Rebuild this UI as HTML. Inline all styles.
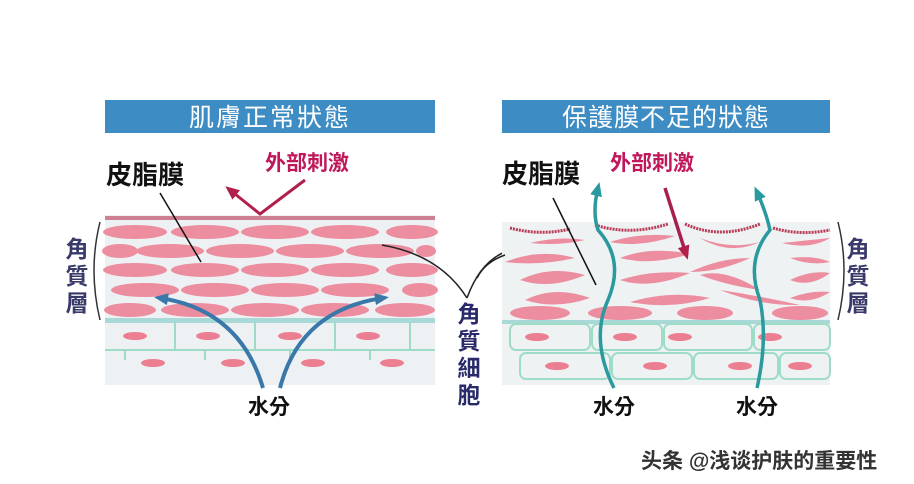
<!DOCTYPE html>
<html><head><meta charset="utf-8"><style>
html,body{margin:0;padding:0;background:#fff;}
svg{display:block;font-family:"Liberation Sans","Noto Sans CJK TC","Noto Sans CJK SC",sans-serif;}
</style></head><body>
<svg width="914" height="484" viewBox="0 0 914 484" xmlns="http://www.w3.org/2000/svg">
<defs>
<marker id="ab" markerUnits="userSpaceOnUse" markerWidth="14" markerHeight="12" refX="8" refY="6" orient="auto"><path d="M0,0 L14,6 L0,12 Z" fill="#3a78aa"/></marker>
<marker id="at" markerUnits="userSpaceOnUse" markerWidth="14" markerHeight="12" refX="8" refY="6" orient="auto"><path d="M0,0 L14,6 L0,12 Z" fill="#2a9a9e"/></marker>
<marker id="ar" markerUnits="userSpaceOnUse" markerWidth="14" markerHeight="12" refX="8" refY="6" orient="auto"><path d="M0,0 L14,6 L0,12 Z" fill="#b0204a"/></marker>
</defs>
<rect width="914" height="484" fill="#fff"/>
<rect x="105" y="100" width="330" height="33" fill="#3e8cc4"/>
<text x="270" y="126" font-size="25" fill="#fff" text-anchor="middle" letter-spacing="2">肌膚正常狀態</text>
<rect x="502" y="100" width="328" height="33" fill="#3e8cc4"/>
<text x="666" y="126" font-size="25" fill="#fff" text-anchor="middle" letter-spacing="1">保護膜不足的狀態</text>

<rect x="105" y="215" width="330" height="170" fill="#eef1f3"/>
<rect x="105" y="216" width="330" height="4" fill="#c0506a" opacity="0.7"/>
<g fill="#ec8da0">
<ellipse cx="135" cy="232" rx="32" ry="7"/><ellipse cx="205" cy="232" rx="34" ry="7"/><ellipse cx="275" cy="232" rx="34" ry="7"/><ellipse cx="345" cy="232" rx="34" ry="7"/><ellipse cx="412" cy="232" rx="26" ry="7"/>
<ellipse cx="120" cy="251" rx="18" ry="7"/><ellipse cx="170" cy="251" rx="34" ry="7"/><ellipse cx="240" cy="251" rx="34" ry="7"/><ellipse cx="310" cy="251" rx="34" ry="7"/><ellipse cx="380" cy="251" rx="34" ry="7"/><ellipse cx="426" cy="251" rx="10" ry="6"/>
<ellipse cx="135" cy="270" rx="32" ry="7"/><ellipse cx="205" cy="270" rx="34" ry="7"/><ellipse cx="275" cy="270" rx="34" ry="7"/><ellipse cx="345" cy="270" rx="34" ry="7"/><ellipse cx="412" cy="270" rx="26" ry="7"/>
<ellipse cx="145" cy="290" rx="34" ry="7"/><ellipse cx="215" cy="290" rx="34" ry="7"/><ellipse cx="285" cy="290" rx="34" ry="7"/><ellipse cx="355" cy="290" rx="34" ry="7"/><ellipse cx="420" cy="290" rx="18" ry="7"/>
<ellipse cx="130" cy="310" rx="26" ry="7"/><ellipse cx="195" cy="310" rx="34" ry="7"/><ellipse cx="265" cy="310" rx="34" ry="7"/><ellipse cx="335" cy="310" rx="34" ry="7"/><ellipse cx="405" cy="310" rx="30" ry="7"/>
</g>
<rect x="105" y="318" width="330" height="5" fill="#a8d9d6"/>
<g stroke="#9fdcc8" stroke-width="2" fill="none">
<line x1="105" y1="350" x2="435" y2="350"/>
<line x1="175" y1="322" x2="175" y2="350"/><line x1="255" y1="322" x2="255" y2="350"/><line x1="335" y1="322" x2="335" y2="350"/><line x1="410" y1="322" x2="410" y2="350"/>
<line x1="125" y1="350" x2="125" y2="360"/><line x1="205" y1="350" x2="205" y2="360"/><line x1="290" y1="350" x2="290" y2="360"/><line x1="370" y1="350" x2="370" y2="360"/>
</g>
<g fill="#ec7e92">
<ellipse cx="135" cy="336" rx="12" ry="4"/><ellipse cx="208" cy="336" rx="12" ry="4"/><ellipse cx="290" cy="336" rx="12" ry="4"/><ellipse cx="368" cy="336" rx="12" ry="4"/>
<ellipse cx="153" cy="363" rx="12" ry="4"/><ellipse cx="233" cy="363" rx="12" ry="4"/><ellipse cx="313" cy="363" rx="12" ry="4"/><ellipse cx="392" cy="363" rx="12" ry="4"/>
</g>
<path d="M263,388 Q240,310 160,298" stroke="#3a78aa" stroke-width="4" fill="none" marker-end="url(#ab)"/>
<path d="M280,388 Q300,310 383,298" stroke="#3a78aa" stroke-width="4" fill="none" marker-end="url(#ab)"/>
<path d="M305,180 L260,214 L230,190" stroke="#b0204a" stroke-width="3" fill="none" marker-end="url(#ar)"/>
<line x1="160" y1="193" x2="201" y2="262" stroke="#111" stroke-width="1.5"/>
<path d="M100,222 Q88,270 100,320" stroke="#333" stroke-width="1.5" fill="none"/>
<text x="106" y="184" font-size="26" fill="#111" font-weight="bold">皮脂膜</text>
<text x="265" y="170" font-size="21" fill="#c0185a" font-weight="bold">外部刺激</text>
<g font-size="23" fill="#3a3a6a" text-anchor="middle" font-weight="bold"><text x="77" y="257">角</text><text x="77" y="284">質</text><text x="77" y="311">層</text></g>
<text x="248" y="414" font-size="21" fill="#111" font-weight="bold">水分</text>

<path d="M467,298 Q440,255 382,245" stroke="#222" stroke-width="1.5" fill="none"/>
<path d="M467,298 Q480,262 505,252" stroke="#222" stroke-width="1.5" fill="none"/>
<g font-size="23" fill="#2a2a6a" text-anchor="middle" font-weight="bold"><text x="469" y="322">角</text><text x="469" y="349">質</text><text x="469" y="376">細</text><text x="469" y="403">胞</text></g>

<rect x="502" y="222" width="328" height="163" fill="#eef2f3"/>
<g stroke="#b83a55" stroke-width="3" fill="none" stroke-dasharray="2 1">
<path d="M510,228 Q540,236 570,229"/><path d="M595,225 Q630,236 668,224"/><path d="M685,224 Q720,240 760,224"/><path d="M773,228 Q800,236 830,230"/>
</g>
<g fill="#ec8da0">
<path d="M530,243 Q560,236 585,240 Q560,246 530,243Z"/>
<path d="M610,242 Q640,232 675,236 Q640,248 610,242Z"/>
<path d="M700,238 Q730,250 760,242 Q730,256 700,238Z"/>
<path d="M782,243 Q810,240 830,238 Q810,250 782,243Z"/>
<path d="M505,262 Q540,248 575,258 Q540,266 505,262Z"/>
<path d="M620,258 Q650,246 690,254 Q650,266 620,258Z"/>
<path d="M690,272 Q720,258 750,258 Q720,272 690,272Z"/>
<path d="M790,258 Q815,255 830,262 Q810,266 790,258Z"/>
<path d="M520,280 Q550,265 585,275 Q550,290 520,280Z"/>
<path d="M620,280 Q650,270 690,273 Q650,290 620,280Z"/>
<path d="M700,275 Q725,268 760,290 Q725,285 700,275Z"/>
<path d="M790,280 Q810,270 830,273 Q810,288 790,280Z"/>
<path d="M525,300 Q555,285 590,298 Q555,310 525,300Z"/>
<path d="M630,302 Q670,290 710,298 Q670,310 630,302Z"/>
<path d="M720,290 Q760,296 800,305 Q760,306 720,290Z"/>
<path d="M790,298 Q810,290 830,292 Q810,305 790,298Z"/>
<ellipse cx="540" cy="313" rx="30" ry="7"/><ellipse cx="620" cy="313" rx="32" ry="7"/><ellipse cx="705" cy="313" rx="28" ry="7"/><ellipse cx="800" cy="313" rx="28" ry="7"/>
</g>
<rect x="502" y="320" width="328" height="4" fill="#a8d9d6"/>
<g stroke="#9fdcc8" stroke-width="2" fill="none">
<rect x="510" y="324" width="80" height="26" rx="6"/><rect x="592" y="324" width="70" height="26" rx="6"/><rect x="664" y="324" width="88" height="26" rx="6"/><rect x="754" y="324" width="76" height="26" rx="6"/>
<rect x="520" y="353" width="90" height="26" rx="6"/><rect x="612" y="353" width="80" height="26" rx="6"/><rect x="694" y="353" width="84" height="26" rx="6"/><rect x="780" y="353" width="50" height="26" rx="6"/>
</g>
<g fill="#ec7e92">
<ellipse cx="537" cy="337" rx="12" ry="4"/><ellipse cx="625" cy="337" rx="12" ry="4"/><ellipse cx="680" cy="337" rx="12" ry="4"/><ellipse cx="770" cy="337" rx="12" ry="4"/>
<ellipse cx="557" cy="366" rx="12" ry="4"/><ellipse cx="655" cy="366" rx="12" ry="4"/><ellipse cx="740" cy="366" rx="12" ry="4"/><ellipse cx="800" cy="366" rx="12" ry="4"/>
</g>
<path d="M614,388 Q590,340 608,300 Q625,260 598,230 Q592,212 598,188" stroke="#2a9a9e" stroke-width="3.5" fill="none" marker-end="url(#at)"/>
<path d="M757,388 Q768,340 760,300 Q745,260 770,230 Q766,212 757,192" stroke="#2a9a9e" stroke-width="3.5" fill="none" marker-end="url(#at)"/>
<line x1="665" y1="188" x2="686" y2="254" stroke="#a81e50" stroke-width="3.5" marker-end="url(#ar)"/>
<line x1="553" y1="198" x2="596" y2="285" stroke="#111" stroke-width="1.5"/>
<path d="M505,255 Q485,262 477,278" stroke="#222" stroke-width="1.5" fill="none"/>
<path d="M838,222 Q850,270 838,320" stroke="#333" stroke-width="1.5" fill="none"/>
<text x="502" y="183" font-size="26" fill="#111" font-weight="bold">皮脂膜</text>
<text x="610" y="170" font-size="21" fill="#c0185a" font-weight="bold">外部刺激</text>
<g font-size="23" fill="#3a3a6a" text-anchor="middle" font-weight="bold"><text x="858" y="257">角</text><text x="858" y="284">質</text><text x="858" y="311">層</text></g>
<text x="593" y="414" font-size="21" fill="#111" font-weight="bold">水分</text>
<text x="736" y="414" font-size="21" fill="#111" font-weight="bold">水分</text>

<text x="641" y="468" font-size="21" fill="#333" font-weight="bold">头条 @浅谈护肤的重要性</text>
</svg>
</body></html>
